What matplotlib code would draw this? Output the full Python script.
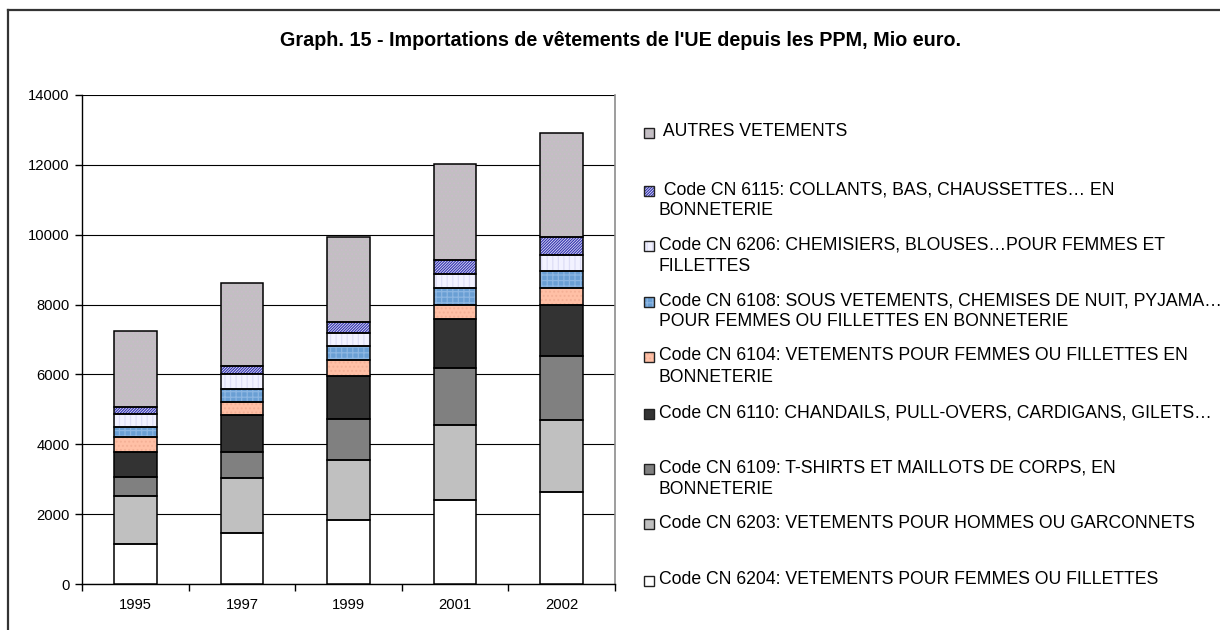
import matplotlib
matplotlib.use('Agg')
import matplotlib.pyplot as plt
from matplotlib.patches import Rectangle
from matplotlib.lines import Line2D
import numpy as np

plt.rcParams['font.family'] = ['Liberation Sans', 'DejaVu Sans']
plt.rcParams['hatch.linewidth'] = 0.9

# ---------------- data ----------------
years = ['1995', '1997', '1999', '2001', '2002']

# stacked bottom -> top
cn6204 = [1150, 1470, 1830, 2400, 2640]
cn6203 = [1370, 1570, 1715, 2160, 2050]
cn6109 = [545, 735, 1170, 1610, 1840]
cn6110 = [715, 1065, 1230, 1420, 1445]
cn6104 = [420, 380, 465, 410, 505]
cn6108 = [285, 360, 390, 475, 475]
cn6206 = [390, 440, 390, 390, 475]
cn6115 = [190, 220, 325, 400, 495]
autres = [2170, 2370, 2430, 2760, 2975]

labels = [
    "Code CN 6204: VETEMENTS POUR FEMMES OU FILLETTES",
    "Code CN 6203: VETEMENTS POUR HOMMES OU GARCONNETS",
    "Code CN 6109: T-SHIRTS ET MAILLOTS DE CORPS, EN\nBONNETERIE",
    "Code CN 6110: CHANDAILS, PULL-OVERS, CARDIGANS, GILETS\u2026",
    "Code CN 6104: VETEMENTS POUR FEMMES OU FILLETTES EN\nBONNETERIE",
    "Code CN 6108: SOUS VETEMENTS, CHEMISES DE NUIT, PYJAMA\u2026\nPOUR FEMMES OU FILLETTES EN BONNETERIE",
    "Code CN 6206: CHEMISIERS, BLOUSES\u2026POUR FEMMES ET\nFILLETTES",
    " Code CN 6115: COLLANTS, BAS, CHAUSSETTES\u2026 EN\nBONNETERIE",
    " AUTRES VETEMENTS",
]
yticks = [0, 2000, 4000, 6000, 8000, 10000, 12000, 14000]
title = "Graph. 15 - Importations de vêtements de l'UE depuis les PPM, Mio euro."

series = [cn6204, cn6203, cn6109, cn6110, cn6104, cn6108, cn6206, cn6115, autres]

# styles: (face, hatch, hatchcolor)
styles = [
    ('#FFFFFF', None, None),
    ('#C0C0C0', None, None),
    ('#808080', None, None),
    ('#333333', None, None),
    ('#FFC0A6', '....', '#F4B096'),
    ('#6A9FD4', '+++', '#8DB6E2'),
    ('#F2F2FF', '|||', '#DEDEF6'),
    ('#F4F4FF', '/' * 12, '#3838B0'),
    ('#C2BFC2', '....', '#CBBACB'),
]

W, H = 1220, 630
fig = plt.figure(figsize=(W / 100, H / 100), dpi=100)

def fx(x):
    return x / W

def fy(y):
    return 1 - y / H

ax = fig.add_axes([fx(82), fy(584), fx(615) - fx(82), fy(95) - fy(584)])

x = np.arange(len(years))
bw = 0.40
bottom = np.zeros(len(years))
for vals, (face, hatch, hcol) in zip(series, styles):
    vals = np.array(vals, dtype=float)
    if hatch:
        ax.bar(x, vals, bw, bottom=bottom, color=face, edgecolor=hcol,
               hatch=hatch, linewidth=0, zorder=3)
    else:
        ax.bar(x, vals, bw, bottom=bottom, color=face, linewidth=0, zorder=3)
    ax.bar(x, vals, bw, bottom=bottom, fill=False, edgecolor='black',
           linewidth=1.1, zorder=4)
    bottom += vals

ax.set_xlim(-0.5, len(years) - 0.5)
ax.set_ylim(0, 14000)
ax.set_yticks(yticks)
ax.set_yticklabels([str(t) for t in yticks], fontsize=10.6)
ax.set_xticks(x)
ax.set_xticklabels(years, fontsize=10.6)
ax.set_xticks(np.arange(-0.5, len(years)), minor=True)
ax.tick_params(axis='x', which='major', length=0, pad=10)
ax.tick_params(axis='x', which='minor', length=5, direction='out', width=1)
ax.tick_params(axis='y', length=5, direction='out', width=1, pad=4)
ax.yaxis.grid(True, color='black', linewidth=0.8, zorder=0)
ax.set_axisbelow(True)
ax.spines['top'].set_visible(False)
ax.spines['right'].set_color('#8C8C8C')
ax.spines['right'].set_linewidth(1.2)
ax.spines['left'].set_linewidth(1.0)
ax.spines['bottom'].set_linewidth(1.0)

# title
fig.text(fx(621), fy(41), title, ha='center', va='center', fontsize=14.2,
         fontweight='bold')

# outer chart frame (left and top visible)
fig.add_artist(Line2D([fx(8), fx(8)], [fy(10), 0], color='#333333', lw=1.6))
fig.add_artist(Line2D([fx(8), 1], [fy(10), fy(10)], color='#333333', lw=1.6))

# legend (top -> bottom is reverse of stacking)
leg_y = [132, 190, 245, 301, 356, 413, 468, 523, 580]
line_gap = 21
sq = 10
for i, idx in enumerate(range(len(series) - 1, -1, -1)):
    face, hatch, hcol = styles[idx]
    yc = leg_y[i] + 1
    r = Rectangle((fx(644), fy(yc + sq / 2)), fx(sq), sq / H,
                  transform=fig.transFigure, facecolor=face,
                  edgecolor=hcol if hatch else 'none', hatch=hatch,
                  linewidth=0)
    fig.add_artist(r)
    r2 = Rectangle((fx(644), fy(yc + sq / 2)), fx(sq), sq / H,
                   transform=fig.transFigure, fill=False,
                   edgecolor='#222222', linewidth=1.0)
    fig.add_artist(r2)
    for j, line in enumerate(labels[idx].split('\n')):
        fig.text(fx(659), fy(leg_y[i] + j * line_gap), line, ha='left',
                 va='center', fontsize=12.7)

fig.savefig('out.png', dpi=100)
